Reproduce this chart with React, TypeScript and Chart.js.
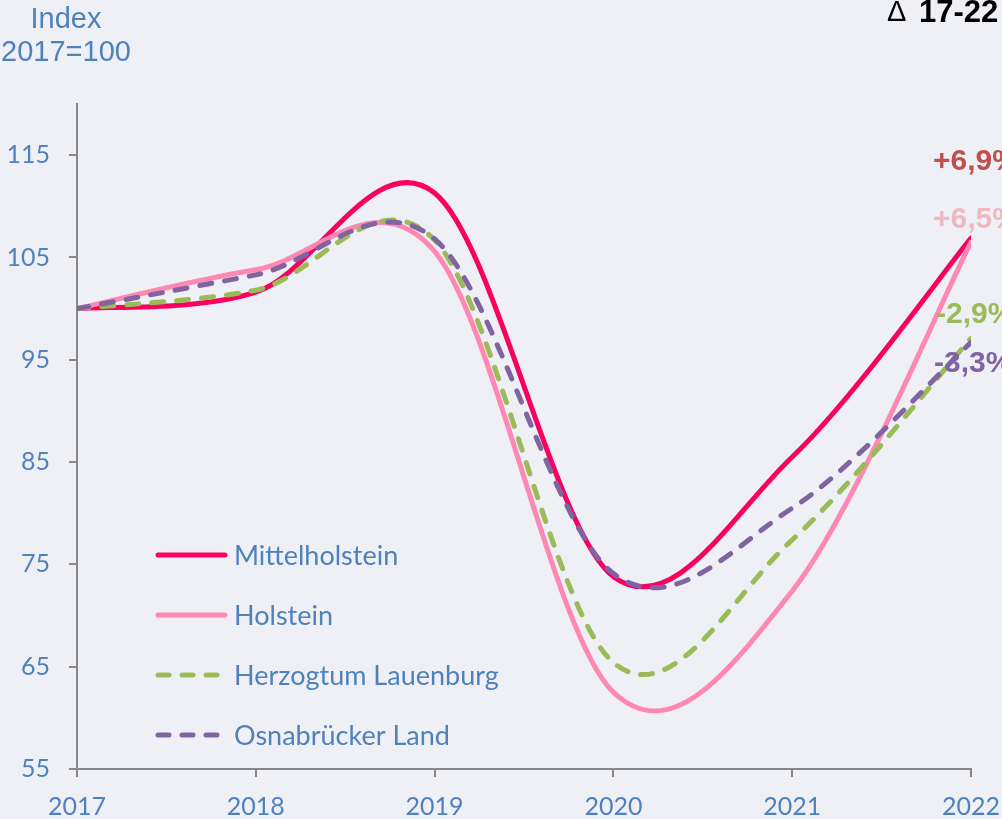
import React, { useEffect, useRef } from "react";
import { Chart, registerables } from "chart.js";

Chart.register(...registerables);

const years = [2017, 2018, 2019, 2020, 2021, 2022];
const mittelholstein = [100, 101.6, 111.3, 73.8, 85.5, 106.9];
const holstein = [100, 103.8, 105.6, 62.5, 72.4, 106.5];
const lauenburg = [100, 101.8, 106.7, 65.4, 77.4, 97.1];
const osnabrueck = [100, 103.3, 106.8, 74.1, 80.5, 96.7];
const yTicks = [55, 65, 75, 85, 95, 105, 115];
const seriesNames = ["Mittelholstein", "Holstein", "Herzogtum Lauenburg", "Osnabrücker Land"];
const changeLabels = ["+6,9%", "+6,5%", "-2,9%", "-3,3%"];

const COLORS = ["#FA0060", "#FF88B3", "#9BBB59", "#8064A2"];
const LABEL_COLORS = ["#C0504D", "#EEB8BE", "#9BBB59", "#8064A2"];
const BLUE = "#4F81BD";
const BG = "#EFF0F6";
const AXIS = "#878787";

const toPoints = (vals: number[]) => years.map((y, i) => ({ x: y, y: vals[i] }));

// Excel-like smoothing: uniform Catmull-Rom control points (1/6 tangent)
const excelSmooth = {
  id: "excelSmooth",
  beforeDatasetDraw(chart: any, args: any) {
    const meta = args.meta;
    const line = meta.dataset;
    if (!line) return;
    line.updateControlPoints(chart.chartArea, "x");
    const pts = meta.data;
    const n = pts.length;
    for (let i = 0; i < n; i++) {
      const p = pts[i];
      const prev = pts[Math.max(0, i - 1)];
      const next = pts[Math.min(n - 1, i + 1)];
      const tx = (next.x - prev.x) / 6;
      const ty = (next.y - prev.y) / 6;
      p.cp1x = p.x - tx;
      p.cp1y = p.y - ty;
      p.cp2x = p.x + tx;
      p.cp2y = p.y + ty;
    }
    line._path = undefined;
  },
};

export default function App() {
  const ref = useRef<HTMLCanvasElement | null>(null);

  useEffect(() => {
    document.body.style.margin = "0";
    document.body.style.background = BG;
    const canvas = ref.current;
    if (!canvas) return;

    const dashed = [12, 13];
    const legendDash = [11, 13];
    const series = [mittelholstein, holstein, lauenburg, osnabrueck];

    const overlay = {
      id: "overlay",
      beforeDraw(chart: any) {
        const ctx = chart.ctx;
        ctx.save();
        ctx.fillStyle = BG;
        ctx.fillRect(0, 0, chart.width, chart.height);
        ctx.restore();
      },
      afterDraw(chart: any) {
        const ctx = chart.ctx;
        ctx.save();
        // Title
        ctx.fillStyle = BLUE;
        ctx.font = '29px "Liberation Sans", Arial, sans-serif';
        ctx.textAlign = "center";
        ctx.textBaseline = "middle";
        ctx.fillText("Index", 66, 20);
        ctx.fillText("2017=100", 66, 53);
        // Delta header
        ctx.fillStyle = "#000000";
        ctx.textAlign = "left";
        ctx.font = '29px "Liberation Sans", Arial, sans-serif';
        ctx.fillText("\u0394", 887, 13);
        ctx.font = 'bold 31px "Liberation Sans", Arial, sans-serif';
        ctx.fillText("17-22", 919, 13);
        // change labels
        ctx.font = 'bold 30px "Liberation Sans", Arial, sans-serif';
        const ys = [162, 220, 315, 364];
        const xs = [933, 933, 936, 934];
        changeLabels.forEach((t, i) => {
          ctx.fillStyle = LABEL_COLORS[i];
          ctx.fillText(t, xs[i], ys[i]);
        });
        // Legend
        ctx.font = '27px Lato, "Noto Sans", sans-serif';
        const ly = [555, 615, 675, 735];
        seriesNames.forEach((name, i) => {
          ctx.strokeStyle = COLORS[i];
          ctx.lineWidth = 5;
          ctx.lineCap = "round";
          ctx.setLineDash(i >= 2 ? legendDash : []);
          ctx.beginPath();
          ctx.moveTo(158, ly[i]);
          ctx.lineTo(225, ly[i]);
          ctx.stroke();
          ctx.setLineDash([]);
          ctx.fillStyle = BLUE;
          ctx.textAlign = "left";
          ctx.textBaseline = "middle";
          ctx.fillText(name, 234, ly[i] + 1);
        });
        ctx.restore();
      },
    };

    const chart = new Chart(canvas, {
      type: "line",
      data: {
        datasets: series.map((vals, i) => ({
          label: seriesNames[i],
          data: toPoints(vals),
          borderColor: COLORS[i],
          backgroundColor: COLORS[i],
          borderWidth: 5,
          borderDash: i >= 2 ? dashed : [],
          borderCapStyle: "round" as const,
          pointRadius: 0,
          tension: 0.4,
          fill: false,
          order: 4 - i,
        })),
      },
      options: {
        animation: false,
        responsive: true,
        maintainAspectRatio: false,
        layout: { padding: { top: 104, right: 31, left: 0, bottom: 0 } },
        plugins: { legend: { display: false }, tooltip: { enabled: false } },
        scales: {
          x: {
            type: "linear",
            min: 2017,
            max: 2022,
            afterFit: (s: any) => {
              s.height = 50;
              s.paddingLeft = 0;
              s.paddingRight = 0;
            },
            afterBuildTicks: (s: any) => {
              s.ticks = years.map((v) => ({ value: v }));
            },
            ticks: {
              color: BLUE,
              font: { family: 'Lato, "Noto Sans", sans-serif', size: 25 },
              padding: 15,
              callback: (v: any) => String(v),
            },
            grid: { drawOnChartArea: false, drawTicks: true, tickLength: 8, color: AXIS, lineWidth: 2 },
            border: { display: true, color: AXIS, width: 2 },
          },
          y: {
            min: 55,
            max: 120,
            afterFit: (s: any) => {
              s.width = 77;
              s.paddingTop = 0;
              s.paddingBottom = 0;
            },
            afterBuildTicks: (s: any) => {
              s.ticks = yTicks.map((v) => ({ value: v }));
            },
            ticks: {
              color: BLUE,
              font: { family: 'Lato, "Noto Sans", sans-serif', size: 25 },
              padding: 19,
              callback: (v: any) => String(v),
            },
            grid: { drawOnChartArea: false, drawTicks: true, tickLength: 8, color: AXIS, lineWidth: 2 },
            border: { display: true, color: AXIS, width: 2 },
          },
        },
      },
      plugins: [excelSmooth, overlay],
    });

    return () => chart.destroy();
  }, []);

  return (
    <div style={{ position: "fixed", left: 0, top: 0, width: 1002, height: 819, background: BG }}>
      <canvas ref={ref} />
    </div>
  );
}
